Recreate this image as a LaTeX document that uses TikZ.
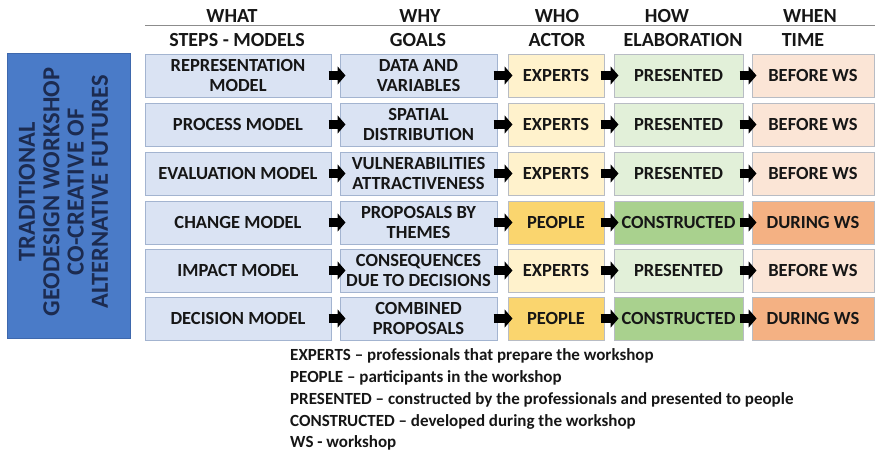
\documentclass[tikz,border=0pt]{standalone}
\usepackage{fontspec}
\setmainfont{Carlito}
\usetikzlibrary{arrows.meta}
\definecolor{txt}{HTML}{161616}
\definecolor{bluefill}{HTML}{DAE3F3}
\definecolor{blueline}{HTML}{A3B4D0}
\definecolor{ylight}{HTML}{FFF2CC}
\definecolor{ydark}{HTML}{FAD56E}
\definecolor{glight}{HTML}{E2F0D9}
\definecolor{gdark}{HTML}{A9D18E}
\definecolor{olight}{HTML}{FBE5D6}
\definecolor{odark}{HTML}{F4B183}
\definecolor{boxline}{HTML}{B8BCC4}
\definecolor{sidefill}{HTML}{4A7BC8}
\definecolor{sideline}{HTML}{3E68AD}
\definecolor{sidetxt}{HTML}{1C2B50}
\definecolor{hline}{HTML}{8C8C8C}
\tikzset{
  cell/.style={draw=boxline, line width=1pt, minimum height=43pt, inner sep=1pt,
    align=center, text=txt, font=\fontsize{18.5}{20.5}\selectfont\bfseries},
  stepbox/.style={cell, fill=bluefill, draw=blueline, minimum width=186pt},
  goalbox/.style={cell, fill=bluefill, draw=blueline, minimum width=157pt},
  actbox/.style={cell, minimum width=96pt},
  elabbox/.style={cell, minimum width=129pt},
  timebox/.style={cell, minimum width=122pt},
  hdr/.style={text=txt, font=\fontsize{20}{22}\selectfont\bfseries, inner sep=0pt},
  legend/.style={text=txt, font=\fontsize{17}{19}\selectfont\bfseries, inner sep=0pt, anchor=west},
  blockarrow/.style={line width=9pt, -{Triangle[length=8pt,width=18pt]}, black,
    shorten <=-4pt, shorten >=-5pt},
}
\begin{document}
\begin{tikzpicture}[x=1pt,y=-1pt]
\useasboundingbox (0,0) rectangle (875,455);
% headers
\node[hdr] (hwhat) at (232,16) {WHAT};
\node[hdr] (hwhy) at (420,16) {WHY};
\node[hdr] (hwho) at (557,16) {WHO};
\node[hdr] (hhow) at (667,16) {HOW};
\node[hdr] (hwhen) at (810,16) {WHEN};
\coordinate (lineL) at (145,25);
\coordinate (lineR) at (875,25);
\draw[hline, line width=0.8pt] (lineL) -- (lineR);
\node[hdr] (hsteps) at (237,40) {STEPS - MODELS};
\node[hdr] (hgoals) at (418,40) {GOALS};
\node[hdr] (hactor) at (557,40) {ACTOR};
\node[hdr] (helab) at (683,40) {ELABORATION};
\node[hdr] (htime) at (803,40) {TIME};
% side box
\node[draw=sideline, fill=sidefill, line width=1pt, minimum width=123pt, minimum height=285pt, inner sep=0pt] (side) at (69,196) {};
\node[rotate=90, align=center, text=sidetxt, font=\fontsize{24.5}{24.3}\selectfont\bfseries, inner sep=0pt] (sidetext) at (63.5,192)
  {TRADITIONAL\\GEODESIGN WORKSHOP\\CO-CREATIVE OF\\ALTERNATIVE FUTURES};
% rows
\foreach \i/\y/\st/\go/\ac/\acf/\el/\elf/\ti/\tif in {
  1/75.5/{REPRESENTATION\\MODEL}/{DATA AND\\VARIABLES}/EXPERTS/ylight/PRESENTED/glight/BEFORE WS/olight,
  2/124.5/PROCESS MODEL/{SPATIAL\\DISTRIBUTION}/EXPERTS/ylight/PRESENTED/glight/BEFORE WS/olight,
  3/173.5/EVALUATION MODEL/{VULNERABILITIES\\ATTRACTIVENESS}/EXPERTS/ylight/PRESENTED/glight/BEFORE WS/olight,
  4/222.5/CHANGE MODEL/{PROPOSALS BY\\THEMES}/PEOPLE/ydark/CONSTRUCTED/gdark/DURING WS/odark,
  5/270.5/IMPACT MODEL/{CONSEQUENCES\\DUE TO DECISIONS}/EXPERTS/ylight/PRESENTED/glight/BEFORE WS/olight,
  6/318.5/DECISION MODEL/{COMBINED\\PROPOSALS}/PEOPLE/ydark/CONSTRUCTED/gdark/DURING WS/odark}{
  \node[stepbox] (s\i) at (238,\y) {\st};
  \node[goalbox] (g\i) at (418.5,\y) {\go};
  \node[actbox, fill=\acf] (a\i) at (556,\y) {\ac};
  \node[elabbox, fill=\elf] (e\i) at (678.5,\y) {\el};
  \node[timebox, fill=\tif] (t\i) at (813,\y) {\ti};
  \draw[blockarrow, shorten <=-3pt, shorten >=-6pt] (s\i.east) -- (g\i.west);
  \draw[blockarrow] (g\i.east) -- (a\i.west);
  \draw[blockarrow] (a\i.east) -- (e\i.west);
  \draw[blockarrow] (e\i.east) -- (t\i.west);
}
% legend
\node[legend] (l1) at (290,356) {EXPERTS – professionals that prepare the workshop};
\node[legend] (l2) at (290,378) {PEOPLE – participants in the workshop};
\node[legend] (l3) at (290,400) {PRESENTED – constructed by the professionals and presented to people};
\node[legend] (l4) at (290,422) {CONSTRUCTED – developed during the workshop};
\node[legend] (l5) at (290,443) {WS - workshop};
\end{tikzpicture}
\end{document}
